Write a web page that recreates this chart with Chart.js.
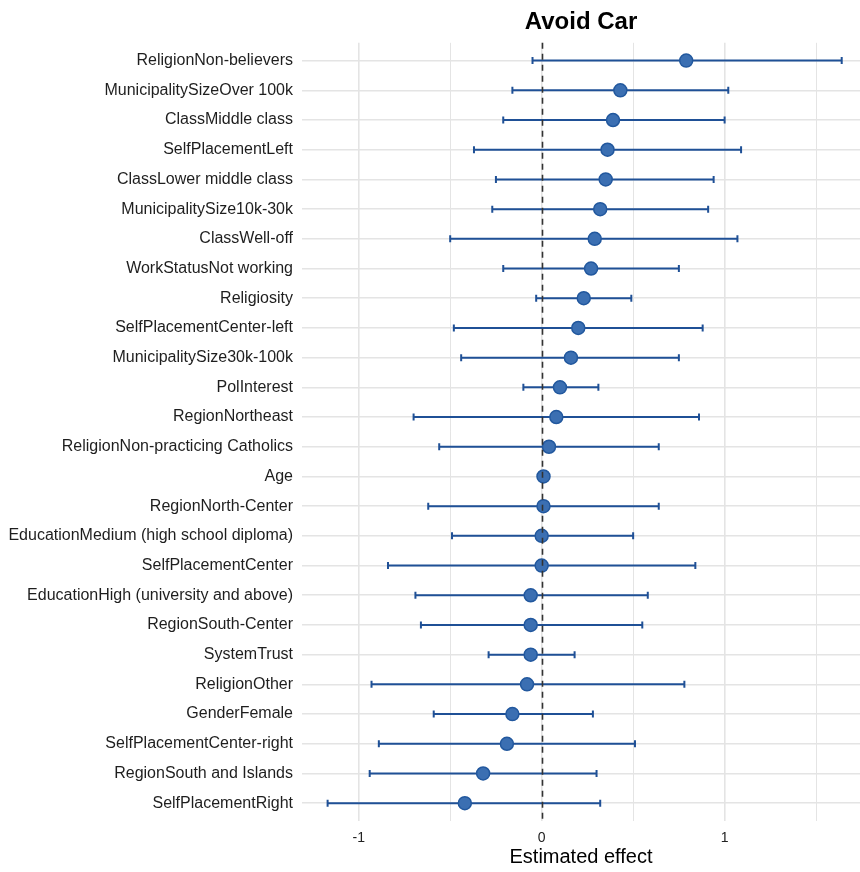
<!DOCTYPE html>
<html>
<head>
<meta charset="utf-8">
<script src="https://cdn.jsdelivr.net/npm/chart.js@4/dist/chart.umd.min.js"></script>
<style>
  html, body { margin: 0; padding: 0; background: #fff; }
  #wrap { width: 860px; height: 872px; }
</style>
</head>
<body>
<div id="wrap"><canvas id="coef-chart"></canvas></div>
<script>
const terms = [
    "ReligionNon-believers",
    "MunicipalitySizeOver 100k",
    "ClassMiddle class",
    "SelfPlacementLeft",
    "ClassLower middle class",
    "MunicipalitySize10k-30k",
    "ClassWell-off",
    "WorkStatusNot working",
    "Religiosity",
    "SelfPlacementCenter-left",
    "MunicipalitySize30k-100k",
    "PolInterest",
    "RegionNortheast",
    "ReligionNon-practicing Catholics",
    "Age",
    "RegionNorth-Center",
    "EducationMedium (high school diploma)",
    "SelfPlacementCenter",
    "EducationHigh (university and above)",
    "RegionSouth-Center",
    "SystemTrust",
    "ReligionOther",
    "GenderFemale",
    "SelfPlacementCenter-right",
    "RegionSouth and Islands",
    "SelfPlacementRight"
];
const estimates = [0.79, 0.43, 0.39, 0.36, 0.35, 0.32, 0.29, 0.27, 0.23, 0.20, 0.16, 0.10,
    0.08, 0.04, 0.01, 0.01, 0.00, 0.00, -0.06, -0.06, -0.06, -0.08, -0.16, -0.19, -0.32, -0.42];
const lower = [-0.05, -0.16, -0.21, -0.37, -0.25, -0.27, -0.50, -0.21, -0.03, -0.48, -0.44, -0.10,
    -0.70, -0.56, 0.00, -0.62, -0.49, -0.84, -0.69, -0.66, -0.29, -0.93, -0.59, -0.89, -0.94, -1.17];
const upper = [1.64, 1.02, 1.00, 1.09, 0.94, 0.91, 1.07, 0.75, 0.49, 0.88, 0.75, 0.31,
    0.86, 0.64, 0.02, 0.64, 0.50, 0.84, 0.58, 0.55, 0.18, 0.78, 0.28, 0.51, 0.30, 0.32];
const xTicks = [-1, -0.5, 0, 0.5, 1, 1.5];

const barColor = '#1f5096';

// error bars with caps, drawn under the points
const errorBars = {
    id: 'errorBars',
    beforeDatasetsDraw(chart) {
        const { ctx, scales: { x, y } } = chart;
        ctx.save();
        ctx.strokeStyle = barColor;
        ctx.lineWidth = 2;
        terms.forEach((t, i) => {
            const py = y.getPixelForValue(i);
            const x0 = x.getPixelForValue(lower[i]);
            const x1 = x.getPixelForValue(upper[i]);
            ctx.beginPath();
            ctx.moveTo(x0, py); ctx.lineTo(x1, py);
            ctx.moveTo(x0, py - 3.5); ctx.lineTo(x0, py + 3.5);
            ctx.moveTo(x1, py - 3.5); ctx.lineTo(x1, py + 3.5);
            ctx.stroke();
        });
        ctx.restore();
    }
};

// dashed reference line at zero, on top
const zeroLine = {
    id: 'zeroLine',
    afterDatasetsDraw(chart) {
        const { ctx, chartArea, scales: { x } } = chart;
        const px = Math.round(x.getPixelForValue(0)) + 0.5;
        ctx.save();
        ctx.strokeStyle = '#333333';
        ctx.lineWidth = 1.6;
        ctx.setLineDash([6, 5]);
        ctx.beginPath();
        ctx.moveTo(px, chartArea.top);
        ctx.lineTo(px, chartArea.bottom);
        ctx.stroke();
        ctx.restore();
    }
};

const context = document.getElementById('coef-chart').getContext('2d');
const coefChart = new Chart(context, {
    type: 'scatter',
    data: {
        datasets: [{
            label: 'Estimate',
            data: estimates.map((v, i) => ({ x: v, y: i })),
            backgroundColor: '#3b6fb2',
            borderColor: '#22589e',
            borderWidth: 1.5,
            pointRadius: 6.5,
            pointHoverRadius: 6.5
        }]
    },
    options: {
        responsive: true,
        maintainAspectRatio: false,
        animation: false,
        layout: { padding: 0, autoPadding: false },
        plugins: {
            legend: { display: false },
            tooltip: { enabled: false },
            title: {
                display: true,
                text: 'Avoid Car',
                fullSize: false,
                color: '#000',
                font: { family: 'Liberation Sans', size: 24, weight: 'bold' },
                padding: { top: 8, bottom: 6 }
            }
        },
        scales: {
            x: {
                type: 'linear',
                min: -1.31,
                max: 1.74,
                afterBuildTicks: (axis) => { axis.ticks = xTicks.map(v => ({ value: v })); },
                afterFit: (axis) => {
                    axis.height = 51;
                    axis.paddingLeft = 0;
                    axis.paddingRight = 0;
                },
                border: { display: false },
                grid: {
                    drawTicks: false,
                    color: '#e4e4e4',
                    lineWidth: (c) => (Number.isInteger(c.tick.value) ? 1.6 : 1)
                },
                ticks: {
                    padding: 9,
                    color: '#222',
                    font: { family: 'Liberation Sans', size: 14 },
                    callback: (v) => (Number.isInteger(v) ? String(v) : '')
                },
                title: {
                    display: true,
                    text: 'Estimated effect',
                    color: '#000',
                    font: { family: 'Liberation Sans', size: 20 },
                    padding: { top: 0, bottom: 3 }
                }
            },
            y: {
                type: 'linear',
                reverse: true,
                min: -0.6,
                max: terms.length - 0.4,
                afterBuildTicks: (axis) => { axis.ticks = terms.map((t, i) => ({ value: i })); },
                afterFit: (axis) => { axis.width = 302; },
                border: { display: false },
                grid: { drawTicks: false, color: '#e4e4e4', lineWidth: 1.6 },
                ticks: {
                    padding: 9,
                    color: '#1e1e1e',
                    font: { family: 'Liberation Sans', size: 16 },
                    callback: (v) => terms[v]
                }
            }
        }
    },
    plugins: [errorBars, zeroLine]
});
</script>
</body>
</html>
